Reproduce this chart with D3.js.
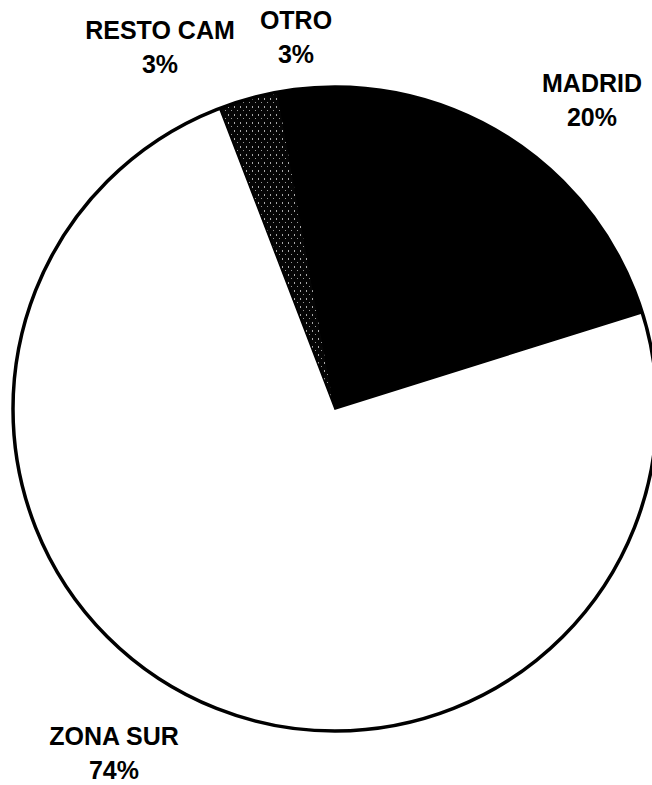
<!doctype html>
<html>
<head>
    <meta charset="UTF-8">
    <title>Pie</title>
    <script src="https://d3js.org/d3.v7.min.js"></script>
    <style>
        body { margin: 0; background: #fff; }
        text { font-family: "Liberation Sans", Arial, sans-serif; font-weight: bold; font-size: 25px; fill: #000; }
    </style>
</head>
<body>
    <script>
        // data ---------------------------
        var categories = ["RESTO CAM", "OTRO", "MADRID", "ZONA SUR"];
        var values = [3, 3, 20, 74];
        var fills = ["url(#speckle)", "#000", "#000", "#fff"];
        // label positions (centre x, first baseline)
        var labelPos = [[160, 39], [296, 29], [592, 92], [114, 745]];

        var w = 652, h = 785;
        var cx = 335, cy = 409, r = 322;

        var svg = d3.select("body").append("svg")
            .attr("width", w)
            .attr("height", h);

        // speckled fill for the small slice
        var pat = svg.append("defs").append("pattern")
            .attr("id", "speckle")
            .attr("width", 6)
            .attr("height", 8)
            .attr("patternUnits", "userSpaceOnUse");
        pat.append("rect").attr("width", 6).attr("height", 8).attr("fill", "#050505");
        pat.append("rect").attr("x", 1).attr("y", 1).attr("width", 1).attr("height", 2).attr("fill", "#aaa");
        pat.append("rect").attr("x", 4).attr("y", 5).attr("width", 1).attr("height", 1).attr("fill", "#999");

        var pie = d3.pie()
            .sort(null)
            .value(function(d){ return d; })
            .startAngle(-21 * Math.PI / 180)
            .endAngle((360 - 21) * Math.PI / 180);

        var arc = d3.arc().innerRadius(0).outerRadius(r);

        var g = svg.append("g").attr("transform", "translate(" + cx + "," + cy + ")");

        g.selectAll("path")
            .data(pie(values))
            .enter()
            .append("path")
            .attr("d", arc)
            .attr("fill", function(d, i){ return fills[i]; })
            .attr("stroke", "#000")
            .attr("stroke-width", 1.5);

        // outline
        g.append("circle")
            .attr("r", r)
            .attr("fill", "none")
            .attr("stroke", "#000")
            .attr("stroke-width", 3.5);

        //labels-----------------------
        var lab = svg.selectAll("text.lab")
            .data(categories)
            .enter()
            .append("text")
            .attr("class", "lab")
            .attr("text-anchor", "middle")
            .attr("x", function(d, i){ return labelPos[i][0]; })
            .attr("y", function(d, i){ return labelPos[i][1]; });

        lab.append("tspan").text(function(d){ return d; });
        lab.append("tspan")
            .attr("x", function(d, i){ return labelPos[i][0]; })
            .attr("dy", 34)
            .text(function(d, i){ return values[i] + "%"; });
    </script>
</body>
</html>
